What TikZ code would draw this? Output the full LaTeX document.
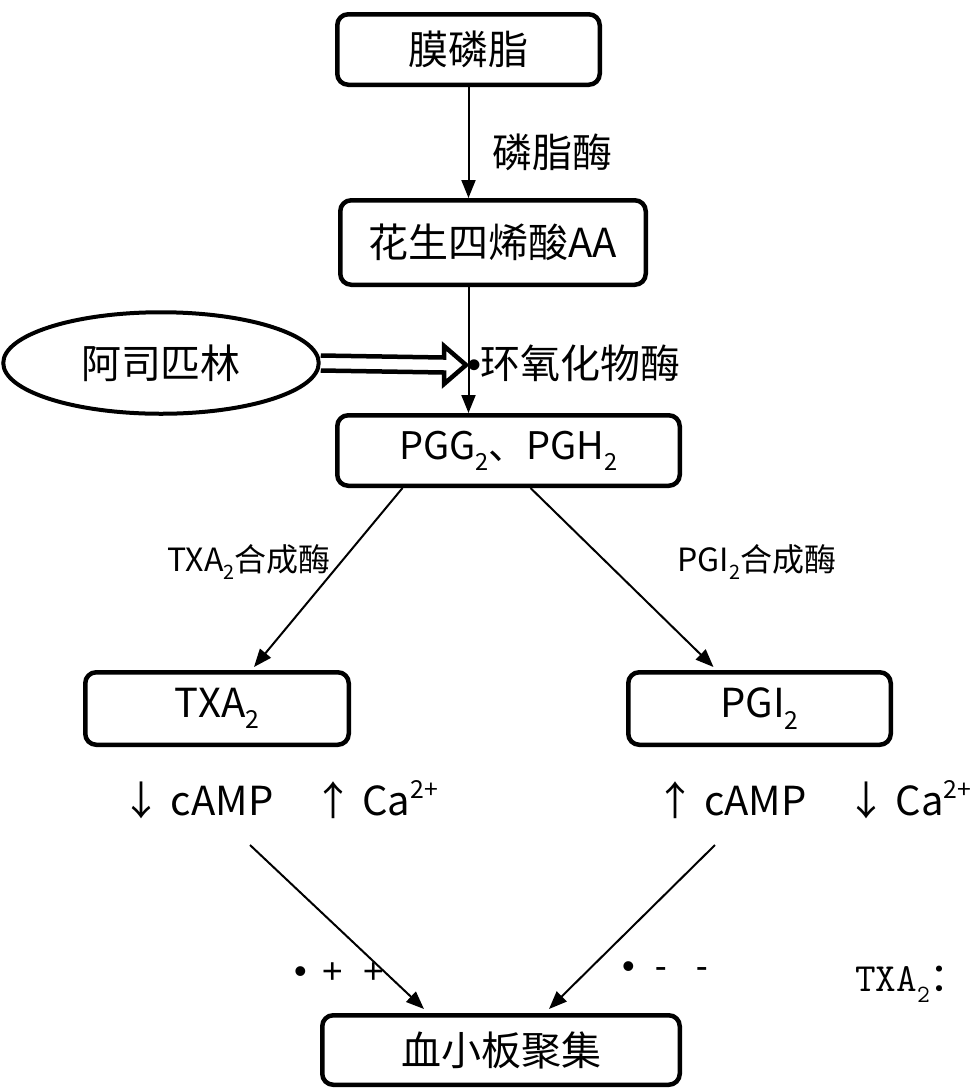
\documentclass[tikz,border=0pt]{standalone}
\usepackage{fontspec}
\setmainfont{Noto Sans CJK SC}
\newfontfamily\marksfont{Liberation Sans}
\newfontfamily\notefont{Latin Modern Mono}
\usetikzlibrary{arrows.meta,calc,shapes.geometric}
% lowered and raised indices in the running font
\newcommand{\dnidx}[1]{\raisebox{-0.28em}{\scalebox{0.62}{#1}}}
\newcommand{\upidx}[1]{\raisebox{0.42em}{\scalebox{0.62}{#1}}}
\begin{document}
\begin{tikzpicture}[x=1pt,y=-1pt,
  box/.style={draw,line width=4.5pt,rounded corners=11pt,inner sep=0pt,
    font=\fontsize{40}{48}\selectfont},
  flow/.style={line width=2pt,-{Triangle[length=18pt,width=14pt]}},
  big/.style={inner sep=0pt,font=\fontsize{40}{48}\selectfont},
  small/.style={inner sep=0pt,font=\fontsize{32}{38}\selectfont},
  signtext/.style={inner sep=0pt,font=\marksfont\fontsize{36}{40}\selectfont},
  hollow/.style={line width=4.5pt,fill=white,line join=miter}]
\useasboundingbox (0,0) rectangle (979,1088);

% main chain
\node[box,minimum width=262.5pt,minimum height=70.5pt] (pl) at (468.5,49.5) {膜磷脂};
\node[box,minimum width=305.5pt,minimum height=84.5pt] (aa) at (493,242.5) {花生四烯酸AA};
\node[box,minimum width=342.5pt,minimum height=70.5pt,font=\fontsize{38}{46}\selectfont] (pgg) at (508.5,450.5) {PGG\dnidx{2}、PGH\dnidx{2}};
\node[box,minimum width=263.5pt,minimum height=72.5pt] (txa) at (217,708.5) {TXA\dnidx{2}};
\node[box,minimum width=262.5pt,minimum height=72.5pt] (pgi) at (759.5,708.5) {PGI\dnidx{2}};
\node[box,minimum width=357.5pt,minimum height=69.5pt] (plt) at (501,1050) {血小板聚集};

% inhibitor
\node[draw,ellipse,line width=4pt,minimum width=315.5pt,minimum height=101.5pt,inner sep=0pt,
  font=\fontsize{40}{48}\selectfont] (asp) at (161,363) {阿司匹林};

% enzyme labels
\node[big] (pla) at (552,152) {磷脂酶};
\node[big,anchor=west] (cox) at (467,363) {{\marksfont\fontsize{40}{48}\selectfont •}\kern-1pt环氧化物酶};
\node[small] (txs) at (249,562) {TXA\dnidx{2}合成酶};
\node[small] (pgs) at (757,562) {PGI\dnidx{2}合成酶};

% second messengers
\node[big,anchor=base] (lm) at (280,815) {↓ cAMP\hspace{40pt}↑ Ca\upidx{2+}};
\node[big,anchor=base west] (rm) at (655,815) {↑ cAMP\hspace{40pt}↓ Ca\upidx{2+}};

% effects
\node[signtext] (pp) at (339,973) {•\hspace{15pt}+\hspace{20pt}+};
\node[signtext] (mm) at (665,970) {•\hspace{20pt}-\hspace{29pt}-};
\node[inner sep=0pt,anchor=west,font=\notefont\fontsize{40}{48}\selectfont] (note) at (855,984)
  {TXA\dnidx{2}{\rmfamily\fontsize{40}{48}\selectfont ：}};

% connectors
\draw[flow] (pl.south) -- (pl.south |- aa.north);
\draw[flow] (pl.south |- aa.south) -- (pl.south |- pgg.north);
\draw[flow] ($(pgg.south)+(-106,0)$) -- ($(txa.north)+(37,-3)$);
\draw[flow] ($(pgg.south)+(22,0)$) -- ($(pgi.north)+(-46,-3)$);
\coordinate (ls) at (250,845);
\coordinate (rs) at (715,845);
\draw[flow] (ls) -- ($(plt.north)+(-77,-4)$);
\draw[flow] (rs) -- ($(plt.north)+(48,-4)$);

% hollow block arrow from the inhibitor
\coordinate (hat) at (466,365);
\draw[hollow] ($(asp.east)+(0,-7.5)$) -- ($(hat)+(-22,-7.5)$) -- ($(hat)+(-22,-19)$) -- (hat)
  -- ($(hat)+(-22,19)$) -- ($(hat)+(-22,7.5)$) -- ($(asp.east)+(0,7.5)$);
\end{tikzpicture}
\end{document}
